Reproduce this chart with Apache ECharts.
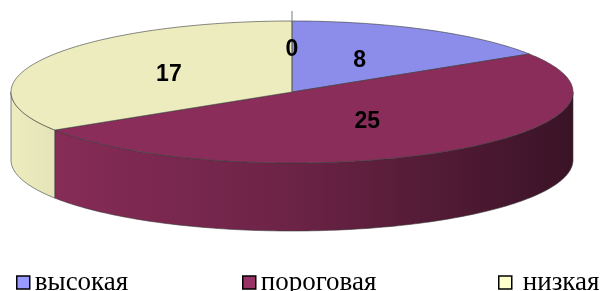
<!DOCTYPE html>
<html>
<head>
<meta charset="utf-8">
<title>3D pie</title>
<script src="https://cdn.jsdelivr.net/npm/echarts@6/dist/echarts.min.js"></script>
<style>
  html, body { margin: 0; padding: 0; background: #fff; }
  #chart { width: 601px; height: 291px; }
</style>
</head>
<body>
<div id="chart"></div>
<script>
// data (the last slice is the empty one that only shows its "0" label)
var categories = ['высокая', 'пороговая', 'низкая', ''];
var values = [8, 25, 17, 0];
var topColors = ['#8c8ceb', '#8b2d5a', '#ececbf', '#808080'];
var legendColors = ['#9999ff', '#993366', '#ffffcc'];

// flattened pie geometry
var cx = 292, cy = 92, rx = 281, ry = 71, depth = 68;
var total = values.reduce(function (a, b) { return a + b; }, 0);

function pt(t, dy) {
    return [cx + rx * Math.sin(t), cy - ry * Math.cos(t) + (dy || 0)];
}
function arc(a0, a1, dy) {
    var pts = [], n = Math.max(2, Math.ceil(Math.abs(a1 - a0) / 0.02));
    for (var k = 0; k <= n; k++) pts.push(pt(a0 + (a1 - a0) * k / n, dy));
    return pts;
}
function shade(hex, f) {
    var c = parseInt(hex.slice(1), 16);
    var r = Math.round(((c >> 16) & 255) * f), g = Math.round(((c >> 8) & 255) * f), b = Math.round((c & 255) * f);
    return 'rgb(' + r + ',' + g + ',' + b + ')';
}

function renderSlice(params, api) {
    var i = api.value(0);
    var before = 0;
    for (var k = 0; k < i; k++) before += values[k];
    var a0 = before / total * Math.PI * 2;
    var a1 = (before + values[i]) / total * Math.PI * 2;
    var children = [];
    var edge = '#3a3a3a';

    if (values[i] === 0) {
        var tip = pt(a0, -10);
        children.push({ type: 'line', shape: { x1: cx, y1: cy, x2: tip[0], y2: tip[1] },
            style: { stroke: '#7a7a7a', lineWidth: 1 } });
    } else {
        // front wall (only the half facing the viewer is seen)
        var w0 = Math.max(a0, Math.PI / 2), w1 = Math.min(a1, Math.PI * 1.5);
        if (w1 > w0) {
            var wall = arc(w0, w1, 0).concat(arc(w1, w0, depth));
            children.push({
                type: 'polygon', shape: { points: wall },
                style: {
                    fill: new echarts.graphic.LinearGradient(cx - rx, 0, cx + rx, 0, [
                        { offset: 0, color: shade(topColors[i], 1.0) },
                        { offset: 0.5, color: shade(topColors[i], 0.78) },
                        { offset: 1, color: shade(topColors[i], 0.42) }
                    ], true),
                    stroke: edge, lineWidth: 0.6
                }
            });
        }
        // top face
        var top = [[cx, cy]].concat(arc(a0, a1, 0));
        children.push({ type: 'polygon', shape: { points: top },
            style: { fill: topColors[i], stroke: edge, lineWidth: 0.6 } });
    }

    // value label
    var mid = (a0 + a1) / 2;
    var lr = values[i] === 0 ? 0.6 : 0.5;
    children.push({
        type: 'text', z2: 10,
        x: cx + rx * lr * Math.sin(mid), y: cy - ry * lr * Math.cos(mid),
        style: { text: String(values[i]), fill: '#000', font: 'bold 23px "Liberation Sans", Arial, sans-serif',
            align: 'center', verticalAlign: 'middle' }
    });
    return { type: 'group', children: children };
}

var series = categories.map(function (name, i) {
    return {
        type: 'custom', name: name, coordinateSystem: 'none',
        itemStyle: { color: legendColors[i] || topColors[i] },
        data: [[i]], renderItem: renderSlice, silent: true
    };
});

var legendLeft = [11, 237, 493];
var legends = legendLeft.map(function (x, i) {
    return {
        left: x, top: 264, icon: 'rect', itemWidth: 13, itemHeight: 13, selectedMode: false,
        data: [{ name: categories[i], itemStyle: { color: legendColors[i], borderColor: '#000', borderWidth: 1.5 } }],
        textStyle: { fontFamily: '"Liberation Serif", "Times New Roman", serif', fontSize: 27, color: '#000',
            padding: i === 2 ? [0, 0, 0, 6] : 0 }
    };
});

var chart = echarts.init(document.getElementById('chart'));
chart.setOption({
    animation: false,
    backgroundColor: '#fff',
    legend: legends,
    series: series
});
</script>
</body>
</html>
